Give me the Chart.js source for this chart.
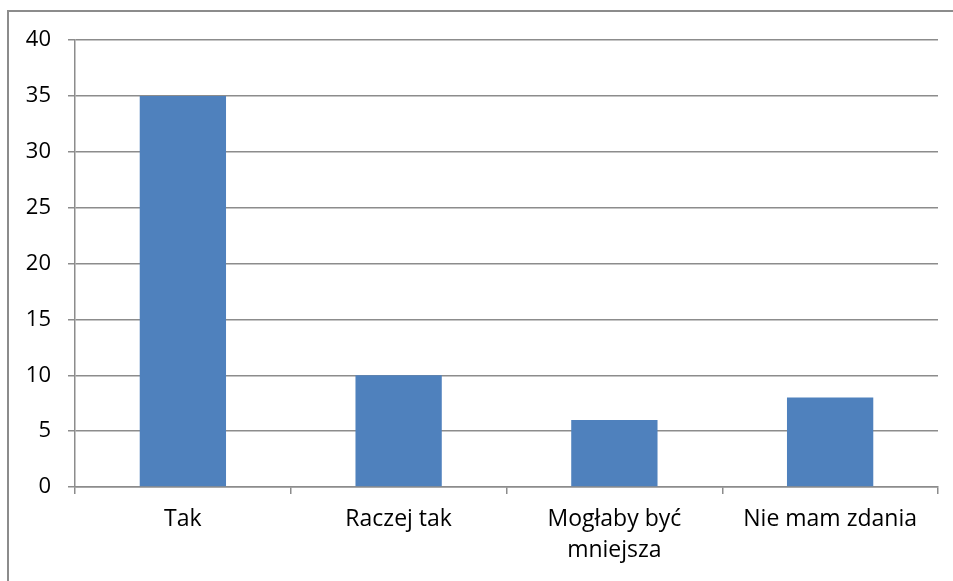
<!DOCTYPE html>
<html>
<head>
<meta charset="utf-8">
<script src="https://cdn.jsdelivr.net/npm/chart.js@4.4.0/dist/chart.umd.min.js"></script>
<style>
  html, body { margin: 0; padding: 0; background: #fff; overflow: hidden; }
  #frame {
    position: absolute; left: 7px; top: 10px;
    width: 960px; height: 590px;
    border: 2px solid #8c8c8c; box-sizing: border-box;
  }
  #wrap { position: absolute; left: 0; top: 0; width: 953px; height: 581px; }
</style>
</head>
<body>
<div id="frame"></div>
<div id="wrap"><canvas id="chart"></canvas></div>
<script>
// Chart data
const categories = ['Tak', 'Raczej tak', ['Mogłaby być', 'mniejsza'], 'Nie mam zdania'];
const values = [35, 10, 6, 8];
const yTicks = [0, 5, 10, 15, 20, 25, 30, 35, 40];

const gridColor = '#8c8c8c';
const fontFamily = '"Open Sans", sans-serif';

const ctx = document.getElementById('chart');
new Chart(ctx.getContext('2d'), {
    type: 'bar',
    data: {
        labels: categories,
        datasets: [{
            data: values,
            backgroundColor: '#4f81bd',
            borderWidth: 0,
            categoryPercentage: 1,
            barPercentage: 0.4
        }]
    },
    options: {
        responsive: true,
        maintainAspectRatio: false,
        animation: false,
        layout: {
            padding: { top: 40, right: 15, bottom: 0, left: 0 }
        },
        plugins: {
            legend: { display: false },
            tooltip: { enabled: false }
        },
        scales: {
            x: {
                grid: {
                    drawOnChartArea: false,
                    drawTicks: true,
                    tickLength: 7,
                    color: gridColor,
                    lineWidth: 1.5
                },
                border: { color: gridColor, width: 1.5 },
                ticks: {
                    color: '#000',
                    font: { family: fontFamily, size: 23, lineHeight: 1.35 },
                    padding: 10,
                    maxRotation: 0,
                    autoSkip: false
                },
                afterFit: function(scale) { scale.height = 94; }
            },
            y: {
                min: 0,
                max: 40,
                afterBuildTicks: function(scale) {
                    scale.ticks = yTicks.map(v => ({ value: v }));
                },
                grid: {
                    tickLength: 7,
                    color: gridColor,
                    lineWidth: 1.5
                },
                border: { color: gridColor, width: 1.5 },
                ticks: {
                    color: '#000',
                    font: { family: fontFamily, size: 22 },
                    padding: 17
                },
                afterFit: function(scale) { scale.width = 75; }
            }
        }
    }
});
</script>
</body>
</html>
